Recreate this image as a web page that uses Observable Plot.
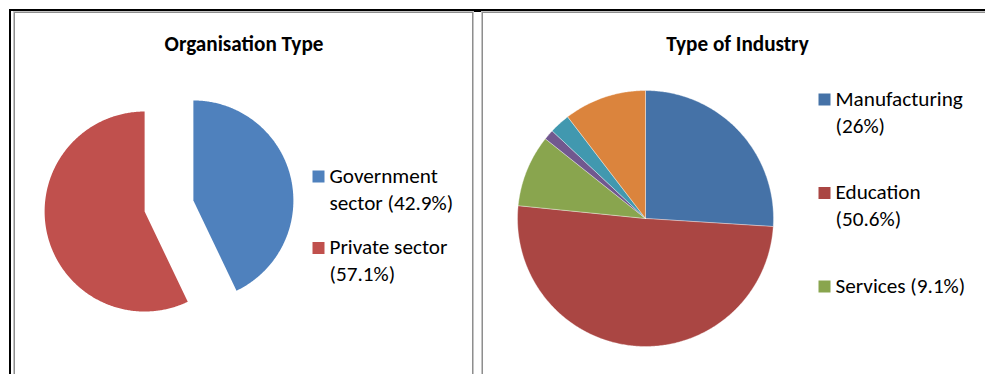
<!DOCTYPE html>
<html><head><meta charset="utf-8">
<script src="https://cdn.jsdelivr.net/npm/d3@7"></script>
<script src="https://cdn.jsdelivr.net/npm/@observablehq/plot@0.6"></script>
<style>
html,body{margin:0;padding:0;background:#fff;}
#page{position:relative;width:985px;height:374px;overflow:hidden;background:#fff;}
.b{position:absolute;box-sizing:border-box;}
.panel{border:1px solid #c4c4c4;box-shadow:inset 0 0 0 1px #8e8e8e;}
#chart{position:absolute;left:0;top:0;}
</style></head><body>
<div id="page">
  <div id="chart"></div>
  <div class="b" style="left:9px;top:9px;width:2px;height:400px;background:#000"></div>
  <div class="b" style="left:9px;top:9px;width:1000px;height:2px;background:#000"></div>
  <div class="b" style="left:474px;top:9px;width:7px;height:3px;background:#000"></div>
  <div class="b panel" style="left:13px;top:11px;width:461px;height:400px;"></div>
  <div class="b panel" style="left:481px;top:11px;width:600px;height:400px;"></div>
</div>
<script>
// ---- data ----
const orgCategories = ["Government sector", "Private sector"];
const orgValues = [42.9, 57.1];
const orgLegend = ["Government\nsector (42.9%)", "Private sector\n(57.1%)"];
const orgTitle = "Organisation Type";

const industryCategories = ["Manufacturing", "Education", "Services", "Other (a)", "Other (b)", "Other (c)"];
const industryValues = [26, 50.6, 9.1, 1.3, 2.6, 10.4];
const industryLegend = ["Manufacturing\n(26%)", "Education\n(50.6%)", "Services (9.1%)"];
const industryTitle = "Type of Industry";

// ---- styles ----
const orgColors = ["#4F81BD", "#C0504D"];
const industryColors = ["#4572A7", "#AA4643", "#89A54E", "#71588F", "#4198AF", "#DB843D"];
const FONT = "Carlito, Lato, 'Open Sans', sans-serif";
const LEGEND_SIZE = 21.2;
const TITLE_SIZE = 21.2;
const LH = 27; // px line height
const TEXT_SHIFT = -2.5;

function slices(cats, vals, colors, cx, cy, r, explode) {
  const arcs = d3.pie().sort(null).value(d => d)(vals);
  const pts = [];
  arcs.forEach((a, i) => {
    const mid = (a.startAngle + a.endAngle) / 2;
    const ox = cx + explode * Math.sin(mid), oy = cy - explode * Math.cos(mid);
    const n = Math.max(2, Math.ceil((a.endAngle - a.startAngle) / 0.01));
    pts.push({k: cats[i], x: ox, y: oy, c: colors[i]});
    for (let j = 0; j <= n; j++) {
      const t = a.startAngle + (a.endAngle - a.startAngle) * j / n;
      pts.push({k: cats[i], x: ox + r * Math.sin(t), y: oy - r * Math.cos(t), c: colors[i]});
    }
    pts.push({k: cats[i], x: ox, y: oy, c: colors[i]});
  });
  return pts;
}

function legend(labels, colors, sx, tx, y0, step) {
  return labels.map((l, i) => {
    const lines = l.split("\n").length;
    const yc = y0 + i * step;
    return {label: l, c: colors[i], sx, tx, yc, yt: yc + TEXT_SHIFT + (lines - 1) * LH / 2};
  });
}

const orgPie = slices(orgCategories, orgValues, orgColors, 168.5, 205.5, 100, 25);
const indPie = slices(industryCategories, industryValues, industryColors, 645, 218, 128, 0);
const leg = [
  ...legend(orgLegend, orgColors, 318, 329, 176, 71.5),
  ...legend(industryLegend, industryColors, 824, 835, 99, 93.5)
];
const titles = [{t: orgTitle, x: 243.5, y: 44}, {t: industryTitle, x: 737, y: 44}];

const chart = Plot.plot({
  width: 985, height: 374, margin: 0,
  x: {domain: [0, 985], range: [0, 985], axis: null},
  y: {domain: [0, 374], range: [0, 374], axis: null},
  color: {type: "identity"},
  style: {background: "transparent", fontFamily: FONT},
  marks: [
    Plot.line(orgPie, {x: "x", y: "y", z: "k", fill: "c", stroke: "none", curve: "linear"}),
    Plot.line(indPie, {x: "x", y: "y", z: "k", fill: "c", stroke: "#ffffff", strokeWidth: 0.8, strokeOpacity: 0.45, curve: "linear"}),
    Plot.dot(leg, {x: "sx", y: "yc", fill: "c", symbol: "square", r: Math.sqrt(144 / Math.PI), stroke: "none"}),
    Plot.text(leg, {x: "tx", y: "yt", text: "label", textAnchor: "start", lineHeight: LH / LEGEND_SIZE, fontSize: LEGEND_SIZE, fontFamily: FONT, fill: "#000"}),
    Plot.text(titles, {x: "x", y: "y", text: "t", fontSize: TITLE_SIZE, fontWeight: "bold", fontFamily: FONT, fill: "#000"})
  ]
});
document.getElementById("chart").appendChild(chart);
</script>
</body></html>
